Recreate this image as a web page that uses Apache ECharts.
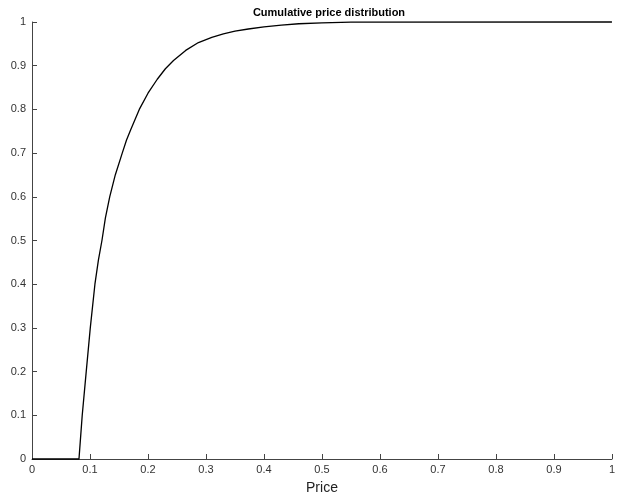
<!DOCTYPE html>
<html>
<head>
<meta charset="utf-8">
<script src="https://cdn.jsdelivr.net/npm/echarts@6/dist/echarts.min.js"></script>
<style>html,body{margin:0;padding:0;background:#fff}#c{width:618px;height:500px}</style>
</head>
<body>
<div id="c"></div>
<script>
var titleText = 'Cumulative price distribution';
var xAxisName = 'Price';
var priceValues = [0, 0.081, 0.0838, 0.0866, 0.0935, 0.1005, 0.1085, 0.1145, 0.1206, 0.1265, 0.134, 0.1436, 0.1556, 0.163, 0.170, 0.185, 0.2, 0.216, 0.23, 0.244, 0.265, 0.287, 0.31, 0.33, 0.35, 0.373, 0.4, 0.43, 0.46, 0.5, 0.55, 1];
var cumulativeValues = [0, 0, 0.05, 0.1, 0.2, 0.3, 0.4, 0.455, 0.5, 0.551, 0.6, 0.65, 0.7, 0.73, 0.753, 0.8, 0.837, 0.869, 0.893, 0.912, 0.935, 0.953, 0.965, 0.973, 0.979, 0.984, 0.989, 0.993, 0.996, 0.998, 0.9995, 1];

var data = priceValues.map(function (x, i) { return [x, cumulativeValues[i]]; });
var fmt = function (v) { return String(+v.toFixed(1)); };
var font = 'Liberation Sans, Arial, Helvetica, sans-serif';

var chart = echarts.init(document.getElementById('c'));
chart.setOption({
  animation: false,
  backgroundColor: '#fff',
  title: {
    text: titleText,
    left: 324, textAlign: 'center', top: 2,
    textStyle: { fontSize: 11, fontWeight: 'bold', color: '#000', fontFamily: font }
  },
  grid: { left: 32, right: 1, top: 22, bottom: 41, containLabel: false },
  xAxis: {
    type: 'value', min: 0, max: 1, interval: 0.1,
    name: xAxisName, nameLocation: 'middle', nameGap: 22,
    nameTextStyle: { fontSize: 14, color: '#222', fontFamily: font },
    axisLine: { show: true, lineStyle: { color: '#444', width: 1 } },
    axisTick: { show: true, inside: true, length: 5, lineStyle: { color: '#444' } },
    axisLabel: { formatter: fmt, fontSize: 11, color: '#333', margin: 5, fontFamily: font },
    splitLine: { show: false }
  },
  yAxis: {
    type: 'value', min: 0, max: 1, interval: 0.1,
    axisLine: { show: true, lineStyle: { color: '#444', width: 1 } },
    axisTick: { show: true, inside: true, length: 5, lineStyle: { color: '#444' } },
    axisLabel: { formatter: fmt, fontSize: 11, color: '#333', margin: 6, fontFamily: font },
    splitLine: { show: false }
  },
  series: [{
    type: 'line',
    data: data,
    showSymbol: false,
    smooth: false,
    lineStyle: { color: '#000', width: 1.3, join: 'round' },
    clip: false
  }]
});
</script>
</body>
</html>
